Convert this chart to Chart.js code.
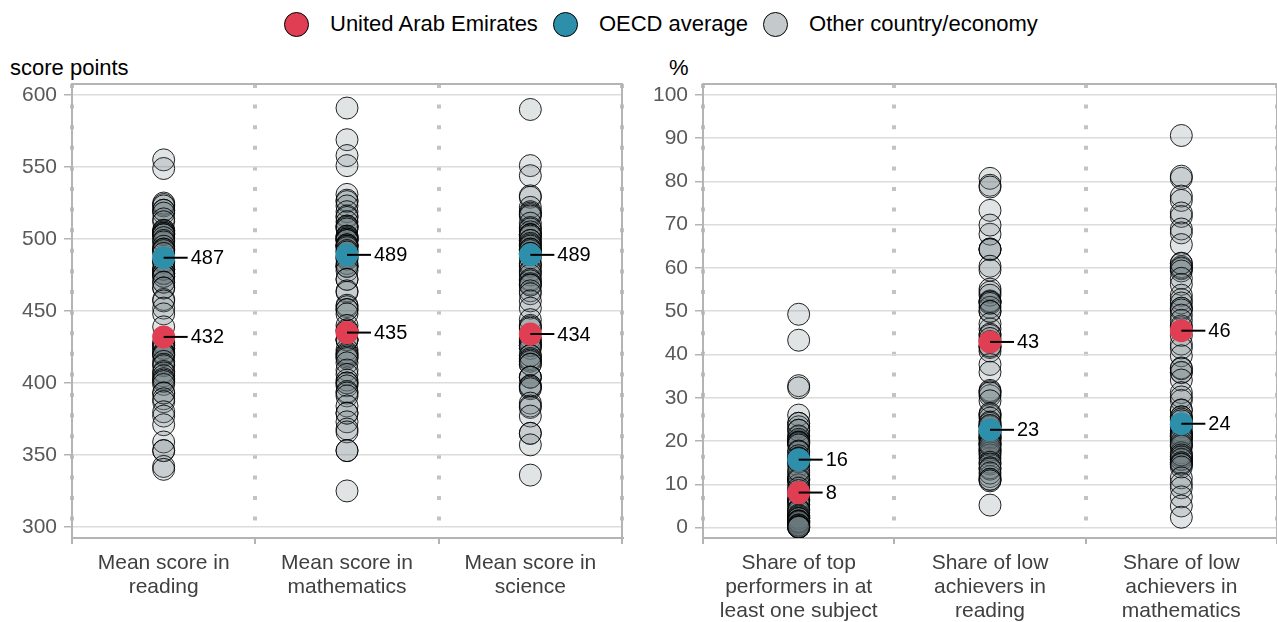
<!DOCTYPE html>
<html lang="en">
<head>
  <meta charset="UTF-8">
  <title>PISA 2018 - United Arab Emirates</title>
  <script src="https://cdn.jsdelivr.net/npm/chart.js"></script>
  <style>
    body {
      margin: 0;
      width: 1277px;
      height: 622px;
      position: relative;
      overflow: hidden;
      background: #fff;
      font-family: Arial, "Liberation Sans", sans-serif;
    }

    .legend {
      position: absolute;
      top: 11px;
      left: 284px;
      display: flex;
      align-items: center;
      font-size: 22px;
      color: #000;
    }

    .legend .dot {
      width: 25px;
      height: 25px;
      border-radius: 50%;
      border: 1px solid #000;
      box-sizing: border-box;
      margin-right: 21px;
    }

    .legend .item {
      display: flex;
      align-items: center;
      margin-right: 15px;
    }

    .axis-title {
      position: absolute;
      top: 56px;
      font-size: 22px;
      line-height: 24px;
      color: #000;
    }

    .panel {
      position: absolute;
      top: 0;
    }
  </style>
</head>
<body>
  <!-- shared legend -->
  <div class="legend">
    <div class="item"><span class="dot" style="background:#e03e52"></span>United Arab Emirates</div>
    <div class="item"><span class="dot" style="background:#2e8fab"></span>OECD average</div>
    <div class="item"><span class="dot" style="background:#c4c9cb"></span>Other country/economy</div>
  </div>

  <div class="axis-title" style="left:10px">score points</div>
  <div class="axis-title" style="left:669px">%</div>

  <canvas id="scoreChart" class="panel" style="left:0" width="640" height="622"></canvas>
  <canvas id="shareChart" class="panel" style="left:640px" width="637" height="622"></canvas>

  <script>
    // ---- data (PISA 2018) ----
    const scoreCategories = ['Mean score in reading', 'Mean score in mathematics', 'Mean score in science'];
    const scoreTickLabels = [['Mean score in', 'reading'], ['Mean score in', 'mathematics'], ['Mean score in', 'science']];
    const scoreYTicks = [300, 350, 400, 450, 500, 550, 600];

    const shareCategories = ['Share of top performers', 'Share of low achievers in reading', 'Share of low achievers in mathematics'];
    const shareTickLabels = [['Share of top', 'performers in at', 'least one subject'], ['Share of low', 'achievers in', 'reading'], ['Share of low', 'achievers in', 'mathematics']];
    const shareYTicks = [0, 10, 20, 30, 40, 50, 60, 70, 80, 90, 100];

    const uaeScores = [432, 435, 434];
    const oecdScores = [487, 489, 489];
    const uaeShares = [8.1, 42.9, 45.5];
    const oecdShares = [15.7, 22.6, 24.0];

    // other countries / economies
    const readingOthers = [555, 549, 525, 524, 523, 520, 520, 518, 514, 512, 506, 506, 505, 504, 504, 503, 503, 501,
      499, 498, 495, 493, 493, 492, 490, 485, 484, 484, 479, 479, 479, 476, 476, 476, 474, 474, 470, 470, 466, 466,
      458, 457, 452, 448, 439, 428, 427, 426, 424, 424, 421, 420, 420, 419, 415, 413, 412, 408, 407, 405, 403, 402,
      401, 399, 393, 393, 389, 387, 380, 377, 371, 359, 353, 353, 342, 340];
    const mathOthers = [591, 569, 558, 551, 531, 527, 526, 523, 519, 516, 515, 512, 509, 509, 508, 507, 502, 502, 501,
      500, 500, 499, 499, 496, 496, 495, 495, 494, 492, 491, 488, 487, 486, 483, 481, 481, 481, 478, 472, 472, 464,
      463, 454, 453, 451, 451, 448, 440, 437, 436, 430, 430, 430, 423, 421, 420, 419, 418, 417, 414, 409, 406, 402,
      400, 400, 398, 394, 393, 391, 384, 379, 379, 373, 368, 366, 353, 353, 325];
    const scienceOthers = [590, 551, 544, 530, 529, 522, 519, 518, 517, 516, 511, 508, 507, 505, 503, 503, 503, 502,
      499, 499, 497, 496, 495, 493, 493, 492, 490, 490, 487, 483, 482, 481, 478, 477, 475, 472, 471, 469, 468, 468,
      464, 462, 457, 452, 444, 440, 439, 438, 431, 429, 428, 426, 426, 426, 424, 419, 419, 417, 416, 415, 413, 413,
      404, 404, 404, 398, 398, 397, 396, 386, 384, 383, 377, 365, 365, 357, 336];
    const topPerformersOthers = [49.3, 43.3, 32.8, 32.3, 26.0, 24.1, 23.3, 22.5, 24.1, 20.1, 21.0, 21.2, 22.5, 20.4,
      19.8, 19.4, 19.6, 19.7, 19.1, 17.7, 17.5, 15.4, 15.5, 16.6, 15.9, 16.1, 15.9, 12.8, 15.2, 14.3, 11.4, 15.2,
      11.2, 11.0, 11.1, 9.9, 10.9, 12.0, 13.2, 8.6, 9.1, 7.8, 6.6, 5.3, 6.5, 6.1, 3.5, 6.2, 2.7, 4.2, 5.4, 4.2, 2.2,
      2.9, 2.4, 2.7, 2.5, 2.1, 2.1, 1.1, 1.0, 3.9, 1.5, 1.2, 1.6, 0.7, 1.3, 2.1, 1.5, 1.4, 0.3, 0.6, 0.5, 0.1, 0.1,
      0.2, 0.1];
    const lowReadingOthers = [80.7, 79.1, 78.7, 67.8, 73.3, 69.9, 64.3, 64.4, 64.2, 60.4, 52.4, 59.5, 55.1, 54.4,
      53.7, 52.1, 52.2, 50.9, 51.8, 49.9, 50.0, 45.9, 41.6, 47.1, 44.7, 44.4, 43.0, 42.0, 43.7, 41.9, 40.8, 37.7,
      35.9, 31.7, 30.5, 31.4, 25.9, 26.1, 31.1, 29.3, 23.4, 26.4, 23.3, 25.3, 24.4, 22.1, 22.4, 21.6, 23.6, 23.6,
      24.1, 20.7, 20.9, 20.2, 21.3, 17.9, 20.7, 19.3, 16.0, 17.8, 19.6, 16.8, 17.3, 19.3, 18.4, 19.0, 15.1, 14.7,
      11.8, 13.5, 13.8, 11.1, 12.6, 11.2, 10.8, 5.2];
    const lowMathOthers = [90.6, 80.7, 81.2, 76.6, 75.6, 71.9, 72.7, 69.0, 68.1, 65.4, 59.8, 60.3, 61.1, 61.0, 60.0,
      59.3, 57.6, 56.2, 50.7, 53.7, 52.7, 51.9, 50.7, 50.3, 49.1, 46.2, 46.6, 47.9, 44.4, 42.4, 41.5, 39.7, 35.8,
      36.9, 35.9, 36.7, 34.1, 31.2, 29.4, 30.2, 27.1, 27.2, 25.6, 25.6, 25.1, 23.8, 24.7, 21.6, 22.4, 23.3, 21.8,
      20.7, 21.3, 21.1, 20.4, 21.1, 18.9, 18.8, 17.3, 19.2, 19.7, 16.4, 15.7, 16.3, 15.8, 15.0, 15.0, 14.7, 16.8,
      14.6, 14.0, 11.5, 10.2, 9.2, 7.1, 5.0, 2.4];

    // ---- styling ----
    const FONT = 'Arial, "Liberation Sans", sans-serif';
    const UAE_RED = '#e03e52';
    const OECD_BLUE = '#2e8fab';
    const AXIS_GREY = '#b4b4b4';

    // points at category positions
    function toPoints(categories, columns) {
      const pts = [];
      columns.forEach((values, k) => {
        values.forEach(v => pts.push({ x: categories[k], y: v }));
      });
      return pts;
    }

    // gray frame around the plot area
    const framePlugin = {
      id: 'frame',
      beforeDatasetsDraw(chart) {
        const { ctx, chartArea: a } = chart;
        ctx.save();
        ctx.strokeStyle = AXIS_GREY;
        ctx.lineWidth = 2;
        ctx.strokeRect(a.left, a.top, a.right - a.left, a.bottom - a.top);
        ctx.restore();
      }
    };

    // short leader line + value for UAE / OECD
    const valueLabelPlugin = {
      id: 'valueLabels',
      afterDatasetsDraw(chart) {
        const ctx = chart.ctx;
        chart.data.datasets.forEach((ds, i) => {
          if (!ds.showValue) return;
          chart.getDatasetMeta(i).data.forEach((pt, j) => {
            ctx.save();
            ctx.strokeStyle = '#000';
            ctx.lineWidth = 2;
            ctx.beginPath();
            ctx.moveTo(pt.x, pt.y);
            ctx.lineTo(pt.x + 24, pt.y);
            ctx.stroke();
            ctx.fillStyle = '#000';
            ctx.font = '20px ' + FONT;
            ctx.textBaseline = 'middle';
            ctx.fillText(Math.round(ds.data[j].y), pt.x + 27, pt.y + 1);
            ctx.restore();
          });
        });
      }
    };

    function makeChart(canvasId, cfg) {
      return new Chart(document.getElementById(canvasId), {
        type: 'scatter',
        data: {
          labels: cfg.categories,
          datasets: [
            {
              label: 'United Arab Emirates',
              data: toPoints(cfg.categories, cfg.uae.map(v => [v])),
              pointRadius: 11.5,
              pointBorderWidth: 0,
              pointBackgroundColor: UAE_RED,
              showValue: true
            },
            {
              label: 'OECD average',
              data: toPoints(cfg.categories, cfg.oecd.map(v => [v])),
              pointRadius: 11.5,
              pointBorderWidth: 0,
              pointBackgroundColor: OECD_BLUE,
              showValue: true
            },
            {
              label: 'Other country/economy',
              data: toPoints(cfg.categories, cfg.others),
              pointRadius: 11,
              pointBorderWidth: 1,
              pointBackgroundColor: 'rgba(105, 120, 123, 0.2)',
              pointBorderColor: 'rgba(0, 0, 0, 0.85)'
            }
          ]
        },
        options: {
          responsive: false,
          animation: false,
          layout: { padding: cfg.padding, autoPadding: false },
          plugins: {
            legend: { display: false },
            tooltip: { enabled: false }
          },
          scales: {
            x: {
              type: 'category',
              offset: true,
              grid: {
                offset: true,
                color: '#c3c3c3',
                lineWidth: 4,
                tickLength: 6,
                tickColor: AXIS_GREY,
                tickWidth: 2
              },
              border: { color: AXIS_GREY, width: 2, dash: [4, 16.6] },
              ticks: {
                color: '#404040',
                font: { size: 21, family: FONT, lineHeight: 1.15 },
                padding: 7,
                maxRotation: 0,
                autoSkip: false,
                callback: (value, index) => cfg.tickLabels[index]
              },
              afterFit(scale) {
                scale.height = 84;
                scale.paddingLeft = 0;
                scale.paddingRight = 0;
              }
            },
            y: {
              min: cfg.yMin,
              max: cfg.yMax,
              grid: { color: '#dcdcdc', lineWidth: 1.5, tickLength: 8, tickColor: AXIS_GREY },
              border: { color: AXIS_GREY, width: 2 },
              ticks: {
                color: '#595959',
                font: { size: 21, family: FONT },
                padding: 7
              },
              afterBuildTicks(scale) { scale.ticks = cfg.yTicks.map(v => ({ value: v })); },
              afterFit(scale) { scale.width = cfg.axisWidth; }
            }
          }
        },
        plugins: [framePlugin, valueLabelPlugin]
      });
    }

    makeChart('scoreChart', {
      categories: scoreCategories,
      tickLabels: scoreTickLabels,
      yTicks: scoreYTicks,
      yMin: 292.3,
      yMax: 607.7,
      uae: uaeScores,
      oecd: oecdScores,
      others: [readingOthers, mathOthers, scienceOthers],
      padding: { top: 84, left: 0, right: 18, bottom: 0 },
      axisWidth: 72
    });

    makeChart('shareChart', {
      categories: shareCategories,
      tickLabels: shareTickLabels,
      yTicks: shareYTicks,
      yMin: -2.4,
      yMax: 102.5,
      uae: uaeShares,
      oecd: oecdShares,
      others: [topPerformersOthers, lowReadingOthers, lowMathOthers],
      padding: { top: 84, left: 0, right: 0, bottom: 0 },
      axisWidth: 63
    });
  </script>
</body>
</html>
